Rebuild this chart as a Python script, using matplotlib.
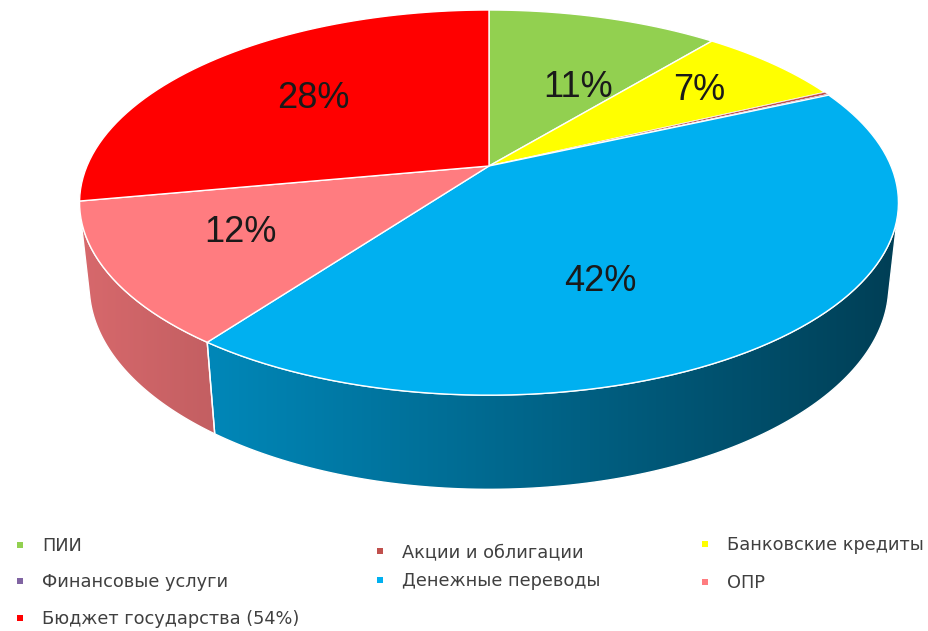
import numpy as np
import matplotlib
matplotlib.use('Agg')
import matplotlib.pyplot as plt
from matplotlib.patches import Polygon, Rectangle
from matplotlib.colors import to_rgb

# data, in legend order
names = ['ПИИ', 'Акции и облигации', 'Банковские кредиты', 'Финансовые услуги',
         'Денежные переводы', 'ОПР', 'Бюджет государства (54%)']
colors = ['#92D050', '#C0504D', '#FFFF00', '#8064A2', '#00B0F0', '#FF7C80', '#FF0000']
shares = [11, 0.2, 7, 0.1, 42, 12, 28]

# clockwise from 12 o'clock
pie_order = [0, 2, 1, 3, 4, 5, 6]

# 3d look of the pie
TILT = np.radians(27.5)
DIST = 4.67
DEPTH = 0.235
CX, CY, R = 489, 166, 402

# label placement (degrees added to mid angle, radius fraction)
label_shift = {0: 8, 2: 0, 4: 15, 5: 2, 6: 0}
label_r = {0: 0.52, 2: 0.72, 4: 0.61, 5: 0.67, 6: 0.61}

# legend layout (pixels), legend order
leg_pos = [(20, 545), (380, 551), (705, 544), (20, 581), (380, 580), (705, 582), (20, 618)]


def proj(theta, z=0.0, r=1.0):
    X = r * np.sin(theta)
    Y = r * np.cos(theta)
    v = Y * np.sin(TILT) + z * np.cos(TILT)
    d = Y * np.cos(TILT) - z * np.sin(TILT)
    s = DIST / (DIST + d)
    return CX + R * X * s, CY - R * v * s


fig = plt.figure(figsize=(9.29, 6.31), dpi=100)
ax = fig.add_axes([0, 0, 1, 1])

total = sum(shares)
vals = [shares[i] for i in pie_order]
edges = np.concatenate([[0], np.cumsum(vals)]) / total * 2 * np.pi

# visible part of the outer wall
lim = np.arccos(-1 / (DIST * np.cos(TILT)))
vis_lo, vis_hi = lim, 2 * np.pi - lim

for k, i in enumerate(pie_order):
    a = max(edges[k], vis_lo)
    b = min(edges[k + 1], vis_hi)
    if a >= b:
        continue
    th = np.linspace(a, b, 120)
    tx, ty = proj(th, 0.0)
    bx, by = proj(th[::-1], -DEPTH)
    verts = np.column_stack([np.concatenate([tx, bx]), np.concatenate([ty, by])])
    wall = Polygon(verts, closed=True, fc='none', ec='white', lw=1.0, zorder=2)
    ax.add_patch(wall)
    x0, x1 = verts[:, 0].min(), verts[:, 0].max()
    y0, y1 = verts[:, 1].min(), verts[:, 1].max()
    xs = np.linspace(x0, x1, 300)
    shade = 0.84 - 0.48 * (xs - (CX - R)) / (2 * R)
    rgb = np.clip(np.array(to_rgb(colors[i]))[None, :] * shade[:, None], 0, 1)
    img = np.repeat(rgb[None, :, :], 2, axis=0)
    im = ax.imshow(img, extent=(x0, x1, y1, y0), aspect='auto', zorder=1,
                   interpolation='bilinear')
    im.set_clip_path(wall)

# top faces
for k, i in enumerate(pie_order):
    th = np.linspace(edges[k], edges[k + 1], max(3, int(200 * vals[k] / total) + 3))
    ax_, ay_ = proj(th, 0.0)
    verts = np.column_stack([np.concatenate([[CX], ax_]), np.concatenate([[CY], ay_])])
    lw = 1.0 if vals[k] >= 1 else 0.3
    ax.add_patch(Polygon(verts, closed=True, fc=colors[i], ec='white', lw=lw, zorder=3))

    if i in label_r:
        mid = (edges[k] + edges[k + 1]) / 2 + np.radians(label_shift[i])
        lx, ly = proj(mid, 0.0, label_r[i])
        ax.text(lx, ly, f'{shares[i]:.0f}%', ha='center', va='center', fontsize=26,
                family='Liberation Sans', color='#1a1a1a', zorder=5)

# legend
for (mx, my), name, col in zip(leg_pos, names, colors):
    ax.add_patch(Rectangle((mx - 3, my - 3), 6, 6, fc=col, ec='none', zorder=5))
    ax.text(mx + 22, my + 1, name, ha='left', va='center', fontsize=12.8,
            family='DejaVu Sans', color='#404040', zorder=5)

ax.set_xlim(0, 929)
ax.set_ylim(631, 0)
ax.axis('off')

fig.savefig('out.png', dpi=100)
